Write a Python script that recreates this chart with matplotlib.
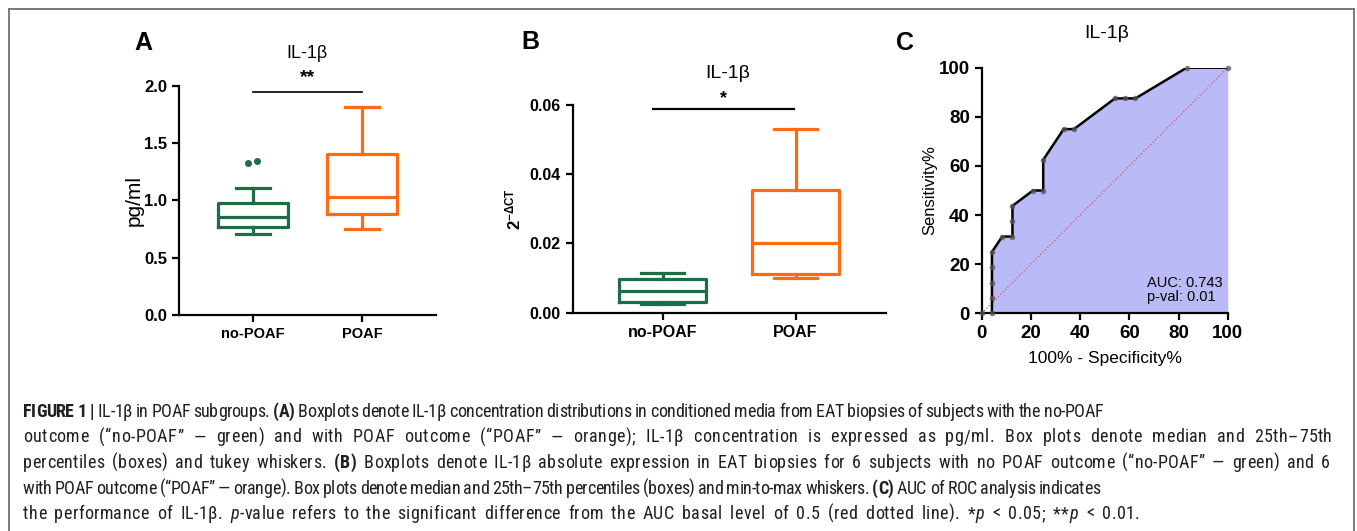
import numpy as np
import matplotlib
matplotlib.use('Agg')
import matplotlib.pyplot as plt
from matplotlib import font_manager
from matplotlib.lines import Line2D

W, H = 1357, 531

groups = ['no-POAF', 'POAF']
green = '#1b6e45'
orange = '#ff6a13'

# A: IL-1b in conditioned media, pg/ml (tukey whiskers)
a_whislo = [0.705, 0.754]
a_q1 = [0.766, 0.880]
a_med = [0.859, 1.028]
a_q3 = [0.976, 1.403]
a_whishi = [1.107, 1.814]
a_fliers = [[1.325, 1.348], []]
a_flier_dx = [-0.05, 0.035]

# B: 2^-dCT (min to max)
b_min = [0.0024, 0.0099]
b_q1 = [0.0032, 0.0112]
b_med = [0.0064, 0.0200]
b_q3 = [0.0096, 0.0355]
b_max = [0.0114, 0.0531]

# C: ROC
roc_fpr = [0, 4.17, 4.17, 4.17, 4.17, 4.17, 8.33, 12.5, 12.5, 12.5,
           20.83, 25, 25, 33.33, 37.5, 54.17, 58.33, 62.5, 83.33, 100]
roc_tpr = [0, 0, 6.25, 12.5, 18.75, 25, 31.25, 31.25, 37.5, 43.75,
           50, 50, 62.5, 75, 75, 87.5, 87.5, 87.5, 100, 100]
auc = 0.743
auc_p = 0.01

plt.rcParams['font.family'] = ['Liberation Sans', 'DejaVu Sans']
plt.rcParams['mathtext.fontset'] = 'custom'
plt.rcParams['mathtext.rm'] = 'Liberation Sans'
plt.rcParams['mathtext.bf'] = 'Liberation Sans:bold'
plt.rcParams['mathtext.it'] = 'Liberation Sans:italic'

fig = plt.figure(figsize=(W / 100, H / 100), dpi=100)


def px(x, y):
    return x / W, 1 - y / H


def style_ax(ax, fs_x, fs_y):
    for s in ['top', 'right']:
        ax.spines[s].set_visible(False)
    for s in ['left', 'bottom']:
        ax.spines[s].set_linewidth(1.6)
    ax.tick_params(direction='out', length=5, width=1.6, color='black')
    for lab in ax.get_xticklabels():
        lab.set_fontweight('bold')
        lab.set_fontsize(fs_x)
    for lab in ax.get_yticklabels():
        lab.set_fontweight('bold')
        lab.set_fontsize(fs_y)


def draw_boxes(ax, lo, q1, med, q3, hi, fliers):
    for i, col in enumerate([green, orange]):
        st = [{'whislo': lo[i], 'q1': q1[i], 'med': med[i], 'q3': q3[i],
               'whishi': hi[i], 'fliers': []}]
        kw = dict(color=col, linewidth=2.3)
        ax.bxp(st, positions=[i], widths=0.65, capwidths=0.32, showfliers=False,
               boxprops=kw, whiskerprops=kw, capprops=kw, medianprops=kw,
               manage_ticks=False)
        if fliers is not None and len(fliers[i]) > 0:
            ax.plot(np.array(a_flier_dx[:len(fliers[i])]) + i, fliers[i], 'o',
                    color=col, ms=4, clip_on=False)


# ---- panel A
axA = fig.add_axes([179 / W, 1 - 315 / H, (436 - 179) / W, (315 - 86) / H])
draw_boxes(axA, a_whislo, a_q1, a_med, a_q3, a_whishi, a_fliers)
axA.set_xlim(-0.68, 1.68)
axA.set_ylim(0, 2.0)
axA.set_yticks([0, 0.5, 1.0, 1.5, 2.0])
axA.set_yticklabels(['0.0', '0.5', '1.0', '1.5', '2.0'])
axA.set_xticks([0, 1])
axA.set_xticklabels(groups)
style_ax(axA, 10.5, 12)
axA.plot([0, 1], [1.95, 1.95], color='black', lw=1.2, clip_on=False)
axA.text(0.5, 2.075, '**', ha='center', va='center', fontsize=14, fontweight='bold')
fig.text(*px(307, 53), 'IL-1β', ha='center', va='center', fontsize=13)
fig.text(*px(134, 201), 'pg/ml', ha='center', va='center', rotation=90, fontsize=15)
fig.text(*px(143, 43), 'A', ha='center', va='center', fontsize=18, fontweight='bold')

# ---- panel B
axB = fig.add_axes([572.7 / W, 1 - 312.7 / H, (886 - 572.7) / W, 207.7 / H])
draw_boxes(axB, b_min, b_q1, b_med, b_q3, b_max, None)
axB.set_xlim(-0.677, 1.68)
axB.set_ylim(0, 0.06)
axB.set_yticks([0, 0.02, 0.04, 0.06])
axB.set_yticklabels(['0.00', '0.02', '0.04', '0.06'])
axB.set_xticks([0, 1])
axB.set_xticklabels(groups)
style_ax(axB, 11.5, 11.5)
axB.plot([-0.075, 0.99], [0.0588, 0.0588], color='black', lw=1.6, clip_on=False)
axB.text(0.46, 0.0618, '*', ha='center', va='center', fontsize=13, fontweight='bold')
fig.text(*px(728, 73), 'IL-1β', ha='center', va='center', fontsize=14)
fig.text(*px(513, 209), r'$\mathbf{2^{-\Delta CT}}$', ha='center', va='center',
         rotation=90, fontsize=12)
fig.text(*px(530, 42), 'B', ha='center', va='center', fontsize=18, fontweight='bold')

# ---- panel C
axC = fig.add_axes([981.7 / W, 1 - 313.3 / H, 246 / W, 245.6 / H])
axC.fill_between(roc_fpr, roc_tpr, 0, color='#b9baf6', lw=0)
axC.plot([0, 100], [0, 100], color='#e0507a', ls=':', lw=0.9)
axC.plot(roc_fpr, roc_tpr, '-', color='black', lw=1.8, zorder=3)
axC.plot(roc_fpr, roc_tpr, 'o', color='#555555', alpha=0.75, ms=4, mew=0,
         clip_on=False, zorder=4)
axC.set_xlim(0, 100)
axC.set_ylim(0, 100)
axC.set_xticks(range(0, 101, 20))
axC.set_yticks(range(0, 101, 20))
style_ax(axC, 13.5, 13.5)
axC.text(0.672, 0.125, 'AUC: %.3f' % auc, transform=axC.transAxes, fontsize=10.5,
         va='center')
axC.text(0.672, 0.068, 'p-val: %.2f' % auc_p, transform=axC.transAxes, fontsize=10.5,
         va='center')
fig.text(*px(1105, 358), '100% - Specificity%', ha='center', va='center', fontsize=12.5)
fig.text(*px(930, 190), 'Sensitivity%', ha='center', va='center', rotation=90,
         fontsize=12)
fig.text(*px(1107, 33), 'IL-1β', ha='center', va='center', fontsize=14)
fig.text(*px(905, 43), 'C', ha='center', va='center', fontsize=18, fontweight='bold')

# ---- frame round the figure
fc = '#707070'
for xs, ys in [([9, 1354], [9, 9]), ([9, 9], [9, H]), ([1354, 1354], [9, H])]:
    fig.add_artist(Line2D([x / W for x in xs], [1 - y / H for y in ys], color=fc, lw=1.3))

# ---- caption
names = {f.name for f in font_manager.fontManager.ttflist}
cap_font = 'Liberation Sans'
for n in ['Liberation Sans Narrow', 'Roboto Condensed', 'Open Sans Condensed']:
    if n in names:
        cap_font = n
        break

cap = [
    [('FIGURE 1 |', 'b'), (' IL-1β in POAF subgroups. ', 'r'), ('(A)', 'b'),
     (' Boxplots denote IL-1β concentration distributions in conditioned media from EAT biopsies of subjects with the no-POAF', 'r')],
    [('outcome (\u201cno-POAF\u201d \u2014 green) and with POAF outcome (\u201cPOAF\u201d \u2014 orange); IL-1β concentration is expressed as pg/ml. Box plots denote median and 25th\u201375th', 'r')],
    [('percentiles (boxes) and tukey whiskers. ', 'r'), ('(B)', 'b'),
     (' Boxplots denote IL-1β absolute expression in EAT biopsies for 6 subjects with no POAF outcome (\u201cno-POAF\u201d \u2014 green) and 6', 'r')],
    [('with POAF outcome (\u201cPOAF\u201d \u2014 orange). Box plots denote median and 25th\u201375th percentiles (boxes) and min-to-max whiskers. ', 'r'),
     ('(C)', 'b'), (' AUC of ROC analysis indicates', 'r')],
    [('the performance of IL-1β. ', 'r'), ('p', 'i'),
     ('-value refers to the significant difference from the AUC basal level of 0.5 (red dotted line). *', 'r'),
     ('p', 'i'), (' < 0.05; **', 'r'), ('p', 'i'), (' < 0.01.', 'r')],
]
cap_right = [1103, 1332, 1330, 1100, 1140]
cap_y = [412, 437.5, 463, 488.5, 514]
cap_x0 = 23
cap_fs = 13

fig.canvas.draw()
rend = fig.canvas.get_renderer()


def kw_for(st):
    d = dict(fontsize=cap_fs, family=[cap_font, 'DejaVu Sans'], color='#231f20')
    if st == 'b':
        d['fontweight'] = 'bold'
    if st == 'i':
        d['fontstyle'] = 'italic'
    return d


cache = {}


def char_w(c, st):
    if (c, st) not in cache:
        t1 = fig.text(0, 0, 'x' + c + 'x', **kw_for(st))
        t2 = fig.text(0, 0, 'xx', **kw_for(st))
        cache[(c, st)] = (t1.get_window_extent(renderer=rend).width
                          - t2.get_window_extent(renderer=rend).width)
        t1.remove()
        t2.remove()
    return cache[(c, st)]


for line, yc, right in zip(cap, cap_y, cap_right):
    chars = [(c, st) for text, st in line for c in text]
    ws = [char_w(c, st) for c, st in chars]
    extra = right - cap_x0 - sum(ws)
    n_sp = sum(1 for c, st in chars if c == ' ')
    if extra > 0:
        sp_add = 0.6 * extra / n_sp
        track = 0.4 * extra / (len(chars) - 1)
    else:
        sp_add = 0
        track = extra / (len(chars) - 1)
    x = cap_x0
    for (c, st), w in zip(chars, ws):
        if c != ' ':
            fig.text(x / W, 1 - (yc + 5) / H, c, va='baseline', ha='left', **kw_for(st))
        else:
            x += sp_add
        x += w + track

fig.savefig('out.png', dpi=100)
